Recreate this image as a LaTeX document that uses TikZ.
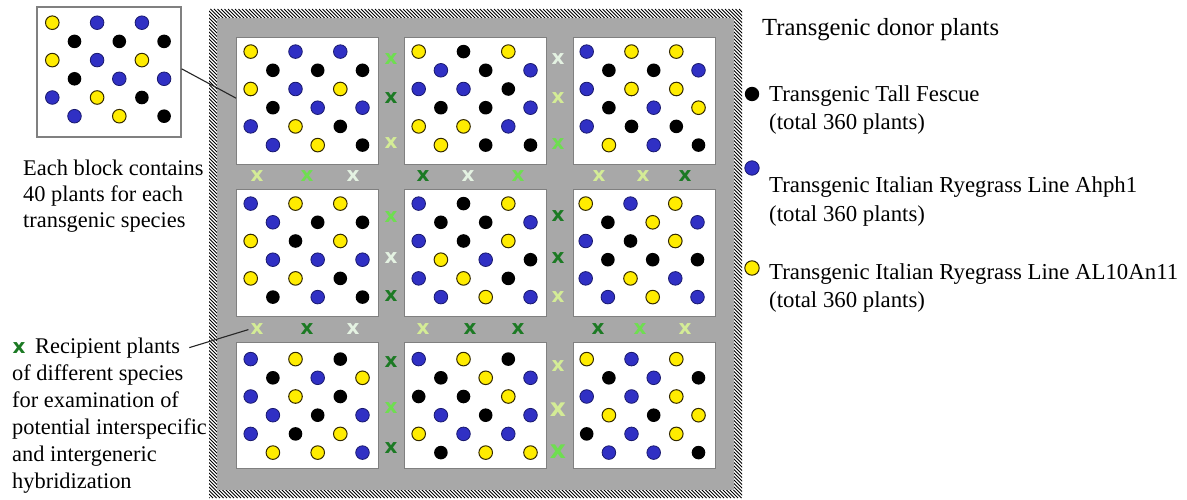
\documentclass[tikz,border=0pt]{standalone}
\usepackage{fontspec}
\setmainfont{Liberation Serif}
\newfontfamily\xsans{DejaVu Sans}
\definecolor{fieldgray}{RGB}{168,168,168}
\definecolor{bordgray}{RGB}{128,128,128}
\definecolor{pblue}{RGB}{48,48,196}
\definecolor{pblueD}{RGB}{25,25,110}
\definecolor{pyel}{RGB}{255,236,0}
\definecolor{pyelD}{RGB}{50,40,0}
\definecolor{mkD}{RGB}{28,122,36}
\definecolor{mkG}{RGB}{110,222,80}
\definecolor{mkP}{RGB}{212,236,150}
\definecolor{mkW}{RGB}{228,242,226}
\newcommand\txtL{\fontsize{22.4}{26}\selectfont}
\newcommand\txtR{\fontsize{22.8}{28}\selectfont}
\newcommand\txtT{\fontsize{24.6}{28}\selectfont}
\newcommand\plantblock[3]{%
  \foreach \ptype [count=\pidx from 0] in {#3} {%
    \pgfmathtruncatemacro\prow{\pidx/3}%
    \pgfmathtruncatemacro\pcol{\pidx-3*\prow}%
    \pgfmathsetmacro\pdx{#1+14.7+22.2*mod(\prow,2)+44.8*\pcol}%
    \pgfmathsetmacro\pdy{#2+14.6+18.7*\prow}%
    \path[dot\ptype] (\pdx,\pdy) circle[radius=6.8];%
  }%
}
\begin{document}
\begin{tikzpicture}[x=1pt,y=-1pt,
  dotK/.style={fill=black},
  dotB/.style={fill=pblue,draw=pblueD,line width=0.8pt},
  dotY/.style={fill=pyel,draw=pyelD,line width=1pt},
  blockbox/.style={draw=bordgray,line width=1.3pt,fill=white,inner sep=0pt,anchor=north west,minimum width=142pt,minimum height=127pt},
  mk/.style={font=\xsans\bfseries\fontsize{20}{20}\selectfont,inner sep=0pt},
  mkbig/.style={font=\xsans\bfseries\fontsize{25}{25}\selectfont,inner sep=0pt},
  txt/.style={inner sep=0pt,anchor=base west},
  connector/.style={draw=black!85,line width=1.1pt}
]
\useasboundingbox (0,0) rectangle (1187,500);
\fill[white] (0,0) rectangle (1187,500);
% hatched border of the field
\begin{scope}
\clip (209,9) rectangle (742,498);
\foreach \hx in {-290,-286.5,...,742} \draw[line width=1pt,draw=black] (\hx,9) -- ++(489,489);
\end{scope}
\fill[fieldgray] (217,18) rectangle (734,490);
% blocks
\node[blockbox] (b11) at (236,37) {};
\node[blockbox] (b12) at (404,37) {};
\node[blockbox] (b13) at (573,37) {};
\node[blockbox] (b21) at (236,189) {};
\node[blockbox] (b22) at (404,189) {};
\node[blockbox] (b23) at (573,189) {};
\node[blockbox,minimum height=125.5pt] (b31) at (236,342) {};
\node[blockbox,minimum height=125.5pt] (b32) at (404,342) {};
\node[blockbox,minimum height=125.5pt] (b33) at (573,342) {};
\plantblock{236}{37}{Y,B,B,K,K,K,Y,B,Y,K,B,B,B,Y,K,B,Y,K}
\plantblock{404}{37}{Y,K,Y,B,K,B,B,B,K,K,K,B,Y,Y,B,Y,K,K}
\plantblock{572}{37}{B,Y,Y,K,K,B,B,Y,Y,K,B,Y,B,K,K,Y,B,K}
\plantblock{236}{189}{B,Y,Y,B,K,K,Y,K,Y,B,B,B,Y,Y,K,K,B,K}
\plantblock{404}{189}{B,K,Y,K,K,B,B,K,Y,Y,B,K,B,Y,K,B,Y,B}
\plantblock{571}{189}{Y,B,Y,K,Y,B,B,K,Y,K,K,K,B,Y,B,B,Y,B}
\plantblock{236}{344.5}{B,Y,K,K,B,Y,B,Y,K,B,K,B,B,K,Y,Y,Y,B}
\plantblock{404}{344.5}{B,Y,K,K,Y,B,K,K,Y,B,K,B,Y,B,B,K,Y,Y}
\plantblock{572}{344.5}{Y,B,Y,K,B,K,B,B,Y,Y,K,Y,K,B,Y,B,B,K}
% recipient markers
\foreach \mx/\my/\mc [count=\mi] in {
 391/59/G, 391/98/D, 391/143/P,
 391/217/G, 391/258/W, 391/296/D,
 391/362/D, 391/408/G, 391/448/D,
 558/59/W, 558/98/P, 558/144/G,
 558/216/D, 558/258/D, 558/297/P,
 558/366/P,
 257/176/P, 307/176/G, 353/176/W,
 423/176/D, 468/176/W, 518/176/G,
 599/176/P, 643/176/P, 685/176/D,
 307/329/D, 353/329/W,
 423/329/P, 470/329/D, 518/329/D,
 598/329/D, 640/329/G, 685/329/P}
 \node[mk,text=mk\mc] (mk\mi) at (\mx,\my) {x};
\node[mkbig,text=mkP] (mkb1) at (558,410) {x};
\node[mkbig,text=mkG] (mkb2) at (558,452) {x};
\node[mk,text=mkP] (mrec) at (257,329) {x};
% inset
\node[blockbox,line width=1.6pt,minimum width=144pt,minimum height=130pt] (inset) at (36,6) {};
\plantblock{37.6}{8.1}{Y,B,B,K,K,K,Y,B,Y,K,B,B,B,Y,K,B,Y,K}
\draw[connector] ([yshift=3pt]inset.east) -- ([yshift=3pt]b11.west);
% left texts
\foreach \tl [count=\mi] in {Each block contains,40 plants for each,transgenic species}
 \node[txt,font=\txtL] (each\mi) at (23,{176+26*(\mi-1)}) {\tl};
\node[mk,text=mkD,font=\xsans\bfseries\fontsize{20}{20}\selectfont] (recx) at (19,348) {x};
\node[txt,font=\txtL] (recip1) at (35,353) {Recipient plants};
\foreach \tl [count=\mi] in {of different species,for examination of,potential interspecific,and intergeneric,hybridization}
 \node[txt,font=\txtL] (recip\mi b) at (12,{380+27*(\mi-1)}) {\tl};
\draw[connector,shorten >=2pt] ([xshift=9pt]recip1.east) -- (mrec.west);
% legend
\node[txt,font=\txtT] (legtitle) at (762,36) {Transgenic donor plants};
\path[dotK] (752,94) circle[radius=7.2];
\node[txt,font=\txtR] (leg1a) at (769,101.7) {Transgenic Tall Fescue};
\node[txt,font=\txtR] (leg1b) at (769,130) {(total 360 plants)};
\path[dotB] (752,168) circle[radius=7.2];
\node[txt,font=\txtR] (leg2a) at (769,193) {Transgenic Italian Ryegrass Line Ahph1};
\node[txt,font=\txtR] (leg2b) at (769,222) {(total 360 plants)};
\path[dotY] (752,268) circle[radius=7.2];
\node[txt,font=\txtR] (leg3a) at (769,279) {Transgenic Italian Ryegrass Line AL10An11};
\node[txt,font=\txtR] (leg3b) at (769,307) {(total 360 plants)};
\end{tikzpicture}
\end{document}
